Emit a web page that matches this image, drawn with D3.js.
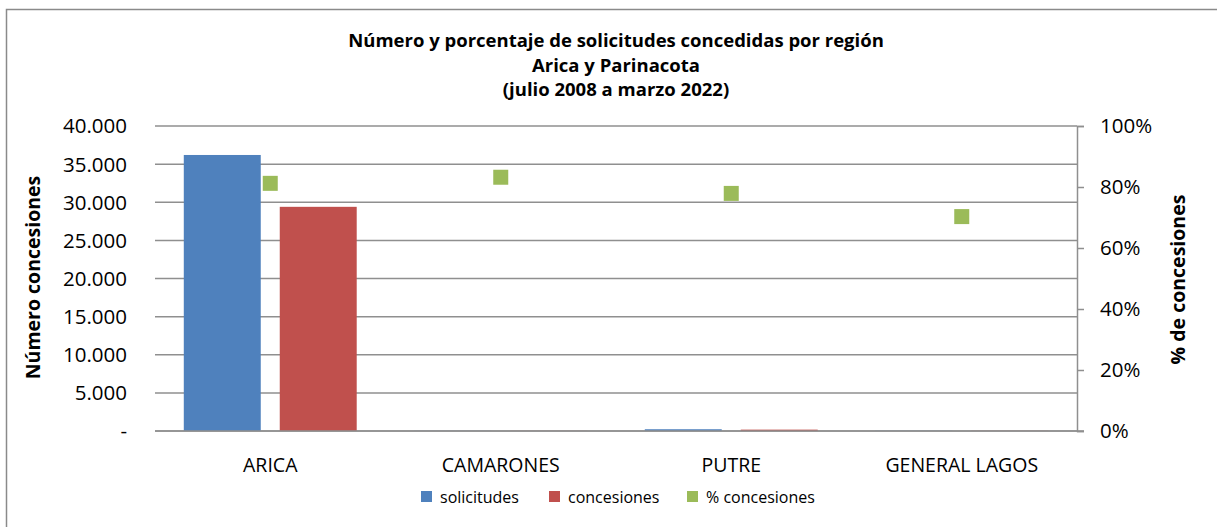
<!DOCTYPE html>
<html>
<head>
<meta charset="utf-8">
<script src="https://cdn.jsdelivr.net/npm/d3@7"></script>
<style>
  body { margin: 0; background: #fff; }
  svg { display: block; font-family: 'Open Sans', sans-serif; }
</style>
</head>
<body>
<div class="canvas"></div>
<script>
const WIDTH = 1217;
const HEIGHT = 527;
const margin = { top: 126, right: 140, bottom: 96, left: 155 };
const graphWidth = WIDTH - margin.left - margin.right;
const graphHeight = HEIGHT - margin.top - margin.bottom;

// data
const categories = ['ARICA', 'CAMARONES', 'PUTRE', 'GENERAL LAGOS'];
const solicitudes = [36200, 18, 230, 27];
const concesiones = [29400, 15, 180, 19];
const pctConcesiones = [0.812, 0.832, 0.779, 0.703];

const seriesNames = ['solicitudes', 'concesiones', '% concesiones'];
const leftTicks = [0, 5000, 10000, 15000, 20000, 25000, 30000, 35000, 40000];
const rightTicks = [0, 0.2, 0.4, 0.6, 0.8, 1];
const titleLines = [
  'Número y porcentaje de solicitudes concedidas por región',
  'Arica y Parinacota',
  '(julio 2008 a marzo 2022)'
];

// colors
const blue = '#4f81bd';
const red = '#c0504d';
const green = '#9bbb59';
const gridGray = '#8f8f8f';
const colors = [blue, red, green];

const locale = d3.formatLocale({ decimal: ',', thousands: '.', grouping: [3], currency: ['$', ''] });
const fmtNum = d => d === 0 ? '-' : locale.format(',.0f')(d);
const fmtPct = d3.format('.0%');

// svg and graph
const svg = d3.select('.canvas')
  .append('svg')
    .attr('width', WIDTH)
    .attr('height', HEIGHT);

// chart border
svg.append('rect')
  .attr('x', 6.5)
  .attr('y', 9.5)
  .attr('width', WIDTH + 20)
  .attr('height', HEIGHT + 20)
  .attr('fill', 'none')
  .attr('stroke', '#8a8a8a')
  .attr('stroke-width', 1.5);

const graph = svg.append('g')
  .attr('transform', `translate(${margin.left}, ${margin.top})`);

// scales
const x = d3.scaleBand()
  .domain(categories)
  .range([0, graphWidth]);

const xInner = d3.scaleBand()
  .domain(['solicitudes', 'concesiones'])
  .range([0, x.bandwidth()])
  .paddingInner(0.198)
  .paddingOuter(0.3);

const y = d3.scaleLinear()
  .domain([0, 40000])
  .range([graphHeight, 0]);

const yPct = d3.scaleLinear()
  .domain([0, 1])
  .range([graphHeight, 0]);

// gridlines
graph.append('g')
  .selectAll('line')
  .data(leftTicks)
  .enter().append('line')
    .attr('x1', 0)
    .attr('x2', graphWidth)
    .attr('y1', d => y(d))
    .attr('y2', d => y(d))
    .attr('stroke', gridGray)
    .attr('stroke-width', 1.5);

// left tick labels
graph.append('g')
  .selectAll('text')
  .data(leftTicks)
  .enter().append('text')
    .attr('x', -28)
    .attr('y', d => y(d))
    .attr('dy', '0.36em')
    .attr('text-anchor', 'end')
    .attr('font-size', 20.5)
    .attr('fill', '#000')
    .text(fmtNum);

// right axis
const yAxisRight = d3.axisRight(yPct)
  .tickValues(rightTicks)
  .tickSize(7)
  .tickPadding(16)
  .tickFormat(fmtPct);

const rightGroup = graph.append('g')
  .attr('transform', `translate(${graphWidth}, 0)`)
  .call(yAxisRight);

rightGroup.select('.domain')
  .attr('stroke', gridGray)
  .attr('stroke-width', 1.5);
rightGroup.selectAll('.tick line')
  .attr('stroke', gridGray)
  .attr('stroke-width', 1.5);
rightGroup.selectAll('.tick text')
  .attr('font-size', 20.5)
  .attr('font-family', 'Open Sans, sans-serif')
  .attr('fill', '#000');

// bars
const barData = categories.flatMap((c, i) => [
  { cat: c, key: 'solicitudes', value: solicitudes[i], color: blue },
  { cat: c, key: 'concesiones', value: concesiones[i], color: red }
]);

graph.append('g')
  .selectAll('rect')
  .data(barData)
  .enter().append('rect')
    .attr('x', d => x(d.cat) + xInner(d.key))
    .attr('width', xInner.bandwidth())
    .attr('y', d => y(d.value))
    .attr('height', d => graphHeight - y(d.value))
    .attr('fill', d => d.color);

// bottom axis line
graph.append('line')
  .attr('x1', 0)
  .attr('x2', graphWidth + 7)
  .attr('y1', graphHeight)
  .attr('y2', graphHeight)
  .attr('stroke', gridGray)
  .attr('stroke-width', 1.5);

// % markers
const markerSize = 15;
graph.append('g')
  .selectAll('rect')
  .data(categories.map((c, i) => ({ cat: c, pct: pctConcesiones[i] })))
  .enter().append('rect')
    .attr('x', d => x(d.cat) + x.bandwidth() / 2 - markerSize / 2)
    .attr('y', d => yPct(d.pct) - markerSize / 2)
    .attr('width', markerSize)
    .attr('height', markerSize)
    .attr('fill', green);

// category labels
graph.append('g')
  .selectAll('text')
  .data(categories)
  .enter().append('text')
    .attr('x', d => x(d) + x.bandwidth() / 2)
    .attr('y', graphHeight + 41)
    .attr('text-anchor', 'middle')
    .attr('font-size', 19.5)
    .text(d => d);

// title
svg.append('g')
  .selectAll('text')
  .data(titleLines)
  .enter().append('text')
    .attr('x', margin.left + graphWidth / 2)
    .attr('y', (d, i) => 47 + i * 24.5)
    .attr('text-anchor', 'middle')
    .attr('font-size', 18.5)
    .attr('font-weight', 'bold')
    .text(d => d);

// axis titles
svg.append('text')
  .attr('transform', `translate(40, ${margin.top + graphHeight / 2 - 1}) rotate(-90)`)
  .attr('text-anchor', 'middle')
  .attr('font-size', 19.5)
  .attr('font-weight', 'bold')
  .text('Número concesiones');

svg.append('text')
  .attr('transform', `translate(1185, ${margin.top + graphHeight / 2 + 1}) rotate(-90)`)
  .attr('text-anchor', 'middle')
  .attr('font-size', 19.5)
  .attr('font-weight', 'bold')
  .text('% de concesiones');

// legend
const legendX = [421, 549, 687];
const legend = svg.append('g')
  .attr('transform', 'translate(0, 491)');

const items = legend.selectAll('g')
  .data(seriesNames)
  .enter().append('g')
    .attr('transform', (d, i) => `translate(${legendX[i]}, 0)`);

items.append('rect')
  .attr('width', 11)
  .attr('height', 11)
  .attr('fill', (d, i) => colors[i]);

items.append('text')
  .attr('x', 19)
  .attr('y', 12)
  .attr('font-size', 16)
  .text(d => d);
</script>
</body>
</html>
